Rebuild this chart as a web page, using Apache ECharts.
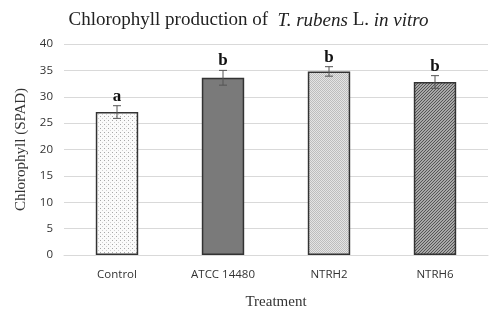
<!DOCTYPE html>
<html><head><meta charset="utf-8">
<script src="https://cdn.jsdelivr.net/npm/echarts@6/dist/echarts.min.js"></script>
<style>html,body{margin:0;padding:0;background:#fff}#c{width:497px;height:316px}</style>
</head><body><div id="c"></div>
<script>
const categories = ['Control', 'ATCC 14480', 'NTRH2', 'NTRH6'];
const values = [27.1, 33.6, 34.8, 32.8];
const errors = [1.2, 1.4, 0.9, 1.2];
const letters = ['a', 'b', 'b', 'b'];
const yTicks = {min: 0, max: 40, interval: 5};

function pat(kind) {
  const c = document.createElement('canvas');
  const ctx = c.getContext('2d');
  if (kind === 'dots') {
    c.width = 4; c.height = 4;
    ctx.fillStyle = '#fbfbfb'; ctx.fillRect(0,0,4,4);
    ctx.fillStyle = '#a8a8a8'; ctx.fillRect(0,0,1,1);
    ctx.fillStyle = '#d0d0d0'; ctx.fillRect(2,2,1,1);
  } else if (kind === 'fine') {
    c.width = 2; c.height = 2;
    ctx.fillStyle = '#e4e4e4'; ctx.fillRect(0,0,2,2);
    ctx.fillStyle = '#bdbdbd'; ctx.fillRect(0,0,1,1); ctx.fillRect(1,1,1,1);
  } else if (kind === 'diag') {
    c.width = 3; c.height = 3;
    ctx.fillStyle = '#a8a8a8'; ctx.fillRect(0,0,3,3);
    ctx.fillStyle = '#555';
    ctx.fillRect(0,2,1,1); ctx.fillRect(1,1,1,1); ctx.fillRect(2,0,1,1);
  }
  return {image: c, repeat: 'repeat'};
}
const fills = [pat('dots'), '#7a7a7a', pat('fine'), pat('diag')];

const chart = echarts.init(document.getElementById('c'), null, {renderer: 'canvas'});
chart.setOption({
  animation: false,
  title: {
    text: 'Chlorophyll production of  {i|T. rubens} L. {i|in vitro}',
    left: 'center', top: 6,
    textStyle: {
      fontFamily: 'Liberation Serif', fontSize: 19, fontWeight: 'normal', color: '#222',
      rich: {i: {fontFamily: 'Liberation Serif', fontSize: 19, fontStyle: 'italic', color: '#222'}}
    }
  },
  grid: {left: 64, right: 9, top: 44, bottom: 61},
  xAxis: {
    type: 'category', data: categories,
    name: 'Treatment', nameLocation: 'middle', nameGap: 40,
    nameTextStyle: {fontFamily: 'Liberation Serif', fontSize: 15, color: '#333'},
    axisLine: {lineStyle: {color: '#d9d9d9'}},
    axisTick: {show: false},
    axisLabel: {fontFamily: 'Open Sans', fontSize: 11.5, color: '#333', margin: 14}
  },
  yAxis: {
    type: 'value', min: yTicks.min, max: yTicks.max, interval: yTicks.interval,
    name: 'Chlorophyll (SPAD)', nameLocation: 'middle', nameGap: 32,
    nameTextStyle: {fontFamily: 'Liberation Serif', fontSize: 15, color: '#333'},
    axisLine: {show: false}, axisTick: {show: false},
    axisLabel: {fontFamily: 'Open Sans', fontSize: 11.5, color: '#333', margin: 11},
    splitLine: {lineStyle: {color: '#d9d9d9', width: 1}}
  },
  series: [
    {
      type: 'bar', barWidth: '40%',
      data: values.map((v, i) => ({value: v, itemStyle: {color: fills[i]}})),
      itemStyle: {borderColor: '#333', borderWidth: 1.5}
    },
    {
      type: 'custom', z: 10,
      data: values.map((v, i) => [i, v, errors[i], letters[i]]),
      renderItem: function (params, api) {
        const x = api.value(0), v = api.value(1), e = api.value(2);
        const hi = api.coord([x, v + e]);
        const lo = api.coord([x, v - e]);
        const w = 4;
        const st = {stroke: '#555', lineWidth: 1};
        return {
          type: 'group',
          children: [
            {type: 'line', shape: {x1: hi[0], y1: hi[1], x2: lo[0], y2: lo[1]}, style: st},
            {type: 'line', shape: {x1: hi[0]-w, y1: hi[1], x2: hi[0]+w, y2: hi[1]}, style: st},
            {type: 'line', shape: {x1: lo[0]-w, y1: lo[1], x2: lo[0]+w, y2: lo[1]}, style: st},
            {type: 'text', style: {
              text: letters[params.dataIndex], x: hi[0], y: hi[1] - 1,
              align: 'center', verticalAlign: 'bottom',
              font: 'bold 17px "Liberation Serif"', fill: '#111'
            }}
          ]
        };
      }
    }
  ]
});
</script></body></html>
